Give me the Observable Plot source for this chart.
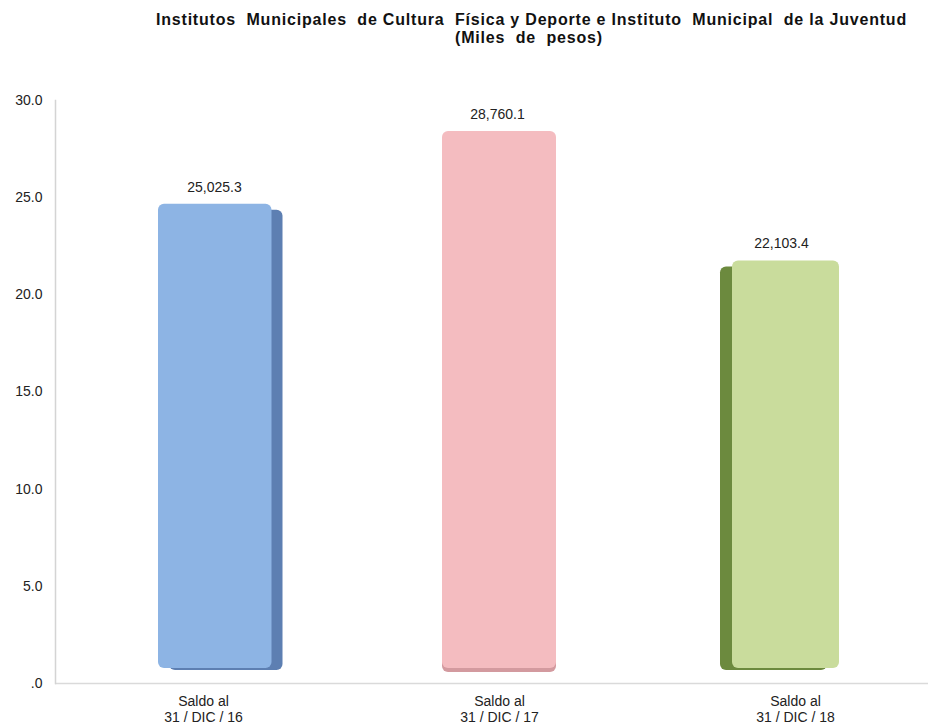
<!DOCTYPE html>
<html>
<head>
<meta charset="utf-8">
<script src="https://cdn.jsdelivr.net/npm/d3@7"></script>
<script src="https://cdn.jsdelivr.net/npm/@observablehq/plot@0.6"></script>
<style>
  html, body { margin: 0; padding: 0; background: #fff; }
  svg text { white-space: pre; }
</style>
</head>
<body>
<div id="chart"></div>
<script>
// ---- data ----
const categories = ["Saldo al\n31 / DIC / 16", "Saldo al\n31 / DIC / 17", "Saldo al\n31 / DIC / 18"];
const values = [25025.3, 28760.1, 22103.4]; // miles de pesos
const yTicks = [0, 5, 10, 15, 20, 25, 30];
const titleLines = [
  "Institutos  Municipales  de Cultura  Física y Deporte e Instituto  Municipal  de la Juventud",
  "(Miles  de  pesos)"
];

// ---- styles ----
const frontColors = ["#8db4e4", "#f4bcc0", "#c9dc9c"];
const sideColors = ["#5d7fb2", "#d39a9f", "#6c8a3e"];
const frontStyle = [
  {dx: 14, insetLeft: 0, insetRight: 4.5},
  {dx: 0, insetLeft: 2, insetRight: 2},
  {dx: -4, insetLeft: 0, insetRight: 11}
];
const sideStyle = [
  {dx: 25, dy: 2, insetLeft: 0, insetRight: 4.5},
  {dx: 0, dy: 4, insetLeft: 2, insetRight: 2},
  {dx: -16, dy: 2, insetLeft: 0, insetRight: 11}
];
const labelDx = [11, -2, -14];

const data = categories.map((c, i) => ({cat: c, v: values[i] / 1000, label: d3.format(",.1f")(values[i])}));

const marks = [
  Plot.ruleY([0], {stroke: "#dadada", strokeWidth: 1.5}),
  Plot.frame({anchor: "left", stroke: "#d4d4d4", strokeWidth: 1.5})
];
data.forEach((d, i) => {
  marks.push(Plot.barY([d], {x: "cat", y: "v", fill: sideColors[i], insetTop: 11, insetBottom: 15, rx: 6, ...sideStyle[i]}));
  marks.push(Plot.barY([d], {x: "cat", y: "v", fill: frontColors[i], insetTop: 7, insetBottom: 15, rx: 6, ...frontStyle[i]}));
  marks.push(Plot.text([d], {x: "cat", y: "v", text: "label", dy: -10, dx: labelDx[i], lineAnchor: "middle", fontSize: 14, fill: "#222"}));
});
marks.push(
  Plot.text([titleLines[0]], {frameAnchor: "top", text: d => d, dx: 39.5, dy: -76, lineAnchor: "bottom", fontSize: 16, fontWeight: "bold", fill: "#111"}),
  Plot.text([titleLines[1]], {frameAnchor: "top", text: d => d, dx: 37, dy: -58, lineAnchor: "bottom", fontSize: 16, fontWeight: "bold", fill: "#111"}),
  Plot.axisY({ticks: yTicks, tickSize: 0, tickPadding: 13, fontSize: 14, fill: "#222", label: null,
    tickFormat: d => d === 0 ? ".0" : d.toFixed(1)}),
  Plot.axisX({tickSize: 0, tickPadding: 11, fontSize: 14, lineHeight: 1.15, fill: "#222", label: null})
);

const chart = Plot.plot({
  width: 928,
  height: 728,
  marginTop: 100,
  marginBottom: 45,
  marginLeft: 55,
  marginRight: 0,
  style: {fontFamily: "'Liberation Sans', Arial, sans-serif", background: "#fff"},
  x: {domain: categories, range: [55, 944], paddingInner: 0.6, paddingOuter: 0.3},
  y: {domain: [0, 30]},
  marks
});
// widen the title's letter spacing to match the reference
chart.querySelectorAll("text").forEach(t => {
  if (titleLines.includes(t.textContent)) t.style.letterSpacing = "0.8px";
});
document.getElementById("chart").appendChild(chart);
</script>
</body>
</html>
